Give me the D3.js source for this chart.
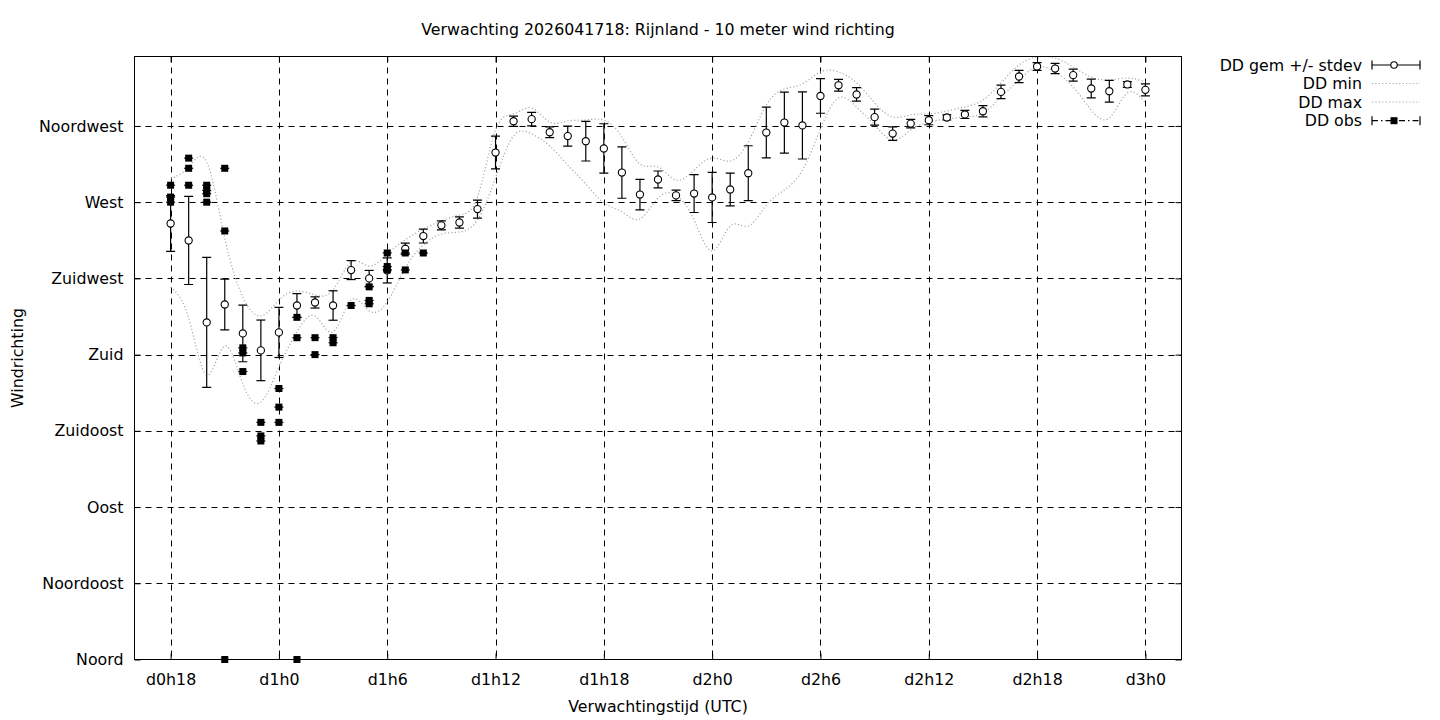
<!DOCTYPE html>
<html><head><meta charset="utf-8">
<script src="https://cdn.jsdelivr.net/npm/d3@7"></script>
<style>body{margin:0;background:#fff}svg{display:block}text{font-family:"DejaVu Sans",sans-serif;fill:#000}</style>
</head><body><svg id="c" width="1440" height="720"></svg>
<script>
const hours = [18,19,20,21,22,23,24,25,26,27,28,29,30,31,32,33,34,35,36,37,38,39,40,41,42,43,44,45,46,47,48,49,50,51,52,53,54,55,56,57,58,59,60,61,62,63,64,65,66,67,68,69,70,71,72];
const ddMean = [257.4,247.4,199,209.6,192.5,182.5,193.1,209,210.8,209,229.9,225,229.7,242.5,250,256.3,258,265.9,299.3,317.8,319,311.3,309,306,301.7,287.5,274.5,283.4,274,275.1,272.8,277.5,287.1,311.1,317,315.3,332.7,339,333.6,320.2,310.5,316.4,318.4,320,321.8,323.7,335.1,344.2,350.1,348.9,345,337.1,335.5,339.5,336.3];
const ddStdev = [16.5,26,38.4,15,16.7,17.9,14.8,7,3.3,8.7,5.6,4.7,7.4,3.3,4.1,2.7,3.3,5.3,9.7,3,4,3.2,5.9,11.7,14.6,15.2,9,5,3.1,11.2,14.8,9.7,16.2,15,18,19.8,10.2,3.5,4,4.7,4,2.5,2.7,1.5,2.4,3.3,4,3.6,2.3,3,3.5,5.5,6.4,1.7,3.5];
const ddMin = [219.9,201.6,168,185.1,162.7,152,172.7,193.4,202.8,193.4,212.2,205.8,211.1,231.1,244.7,251.2,252.4,259.5,284.3,309.1,310.3,303.2,291.9,280.7,269.5,264.2,260.1,272.5,274.2,259.5,241.2,255.9,255.9,268.3,277.2,289,313.2,331.5,326.2,315.6,306.7,312.6,317.3,319.1,320.3,322.6,332.1,342.1,349.8,346.9,338,324.4,319.7,334.5,328.6];
const ddMax = [283.7,290.8,293.7,248.8,214,202.8,212.2,217.6,215.2,218.2,234.7,232.3,239.4,247.7,254.2,258.9,262.4,273.1,312.6,322.1,325.6,317.3,317.9,318.5,318.5,308.5,292.5,290.8,283.1,289,296.1,294.3,305.5,327.4,336.8,339.8,346.9,346.9,340.4,328.6,320.3,321.5,322.1,323.8,326.2,330.3,340.4,351,355.7,355.1,349.8,343.9,342.1,343.3,341];
const obsHour = [18,18,18,19,19,19,20,20,20,20,21,21,21,22,22,22,23,23,23,24,24,24,25,25,25,26,26,27,27,28,29,29,29,30,30,30,31,31,32];
const obsDir  = [280,273,270,296,290,280,280,277,275,270,290,253,0,184,181,170,140,132,129,160,149,140,202,190,0,190,180,190,187,209,220,212,210,240,232,230,240,230,240];
const xTickHours = [18,24,30,36,42,48,54,60,66,72];
const xTickLabels = ["d0h18","d1h0","d1h6","d1h12","d1h18","d2h0","d2h6","d2h12","d2h18","d3h0"];
const yTickValues = [0,45,90,135,180,225,270,315];
const yTickLabels = ["Noord","Noordoost","Oost","Zuidoost","Zuid","Zuidwest","West","Noordwest"];
const legendLabels = ["DD gem +/- stdev","DD min","DD max","DD obs"];

const L=134.5,R=1181.5,T=56.5,B=659.5, FS=15.8;
const svg=d3.select("#c");
const x=d3.scaleLinear().domain([16,74]).range([L,R]);
const y=d3.scaleLinear().domain([0,356]).range([B,T]);

svg.append("defs").append("clipPath").attr("id","pc").append("rect").attr("x",L).attr("y",T).attr("width",R-L).attr("height",B-T);

// grid
const grid=svg.append("g").attr("stroke","#000").attr("stroke-width",1).attr("stroke-dasharray","6,5");
grid.selectAll("line.v").data(xTickHours).join("line").attr("x1",d=>Math.round(x(d))+0.5).attr("x2",d=>Math.round(x(d))+0.5).attr("y1",T).attr("y2",B);
grid.selectAll("line.h").data(yTickValues.filter(v=>v>0)).join("line").attr("y1",d=>Math.round(y(d))+0.5).attr("y2",d=>Math.round(y(d))+0.5).attr("x1",L).attr("x2",R);

// axes
const ax=d3.axisBottom(x).tickValues(xTickHours).tickFormat((d,i)=>xTickLabels[i]).tickSize(-6).tickPadding(14);
const gx=svg.append("g").attr("transform",`translate(0,${B})`).call(ax);
const ay=d3.axisLeft(y).tickValues(yTickValues).tickFormat((d,i)=>yTickLabels[i]).tickSize(-6).tickPadding(11);
const gy=svg.append("g").attr("transform",`translate(${L},0)`).call(ay);
const ayr=d3.axisRight(y).tickValues(yTickValues).tickFormat("").tickSize(-6);
const gyr=svg.append("g").attr("transform",`translate(${R},0)`).call(ayr);
const axt=d3.axisTop(x).tickValues(xTickHours).tickFormat("").tickSize(-6);
const gxt=svg.append("g").attr("transform",`translate(0,${T})`).call(axt);
[gx,gy,gyr,gxt].forEach(g=>{g.select(".domain").remove();g.selectAll("line").attr("stroke","#000");g.selectAll("text").attr("font-size",FS).attr("font-family","DejaVu Sans").attr("fill","#000");});

// min / max
const plot=svg.append("g").attr("clip-path","url(#pc)");
const lineOf=arr=>d3.line().x((d,i)=>x(hours[i])).y(d=>y(d)).curve(d3.curveNatural)(arr);
[ddMin,ddMax].forEach(arr=>{
  plot.append("path").attr("d",lineOf(arr)).attr("fill","none").attr("stroke","#a8a8a8").attr("stroke-width",1.2).attr("stroke-dasharray","1.2,2.2");
});

// error bars
const eb=plot.append("g").attr("stroke","#000").attr("stroke-width",1.2);
hours.forEach((h,i)=>{
  const cx=x(h), y1=y(ddMean[i]-ddStdev[i]), y2=y(ddMean[i]+ddStdev[i]);
  eb.append("line").attr("x1",cx).attr("x2",cx).attr("y1",y1).attr("y2",y2);
  eb.append("line").attr("x1",cx-4.5).attr("x2",cx+4.5).attr("y1",y1).attr("y2",y1);
  eb.append("line").attr("x1",cx-4.5).attr("x2",cx+4.5).attr("y1",y2).attr("y2",y2);
});
plot.append("g").selectAll("circle").data(hours).join("circle")
  .attr("cx",d=>x(d)).attr("cy",(d,i)=>y(ddMean[i])).attr("r",3.6)
  .attr("fill","#fff").attr("stroke","#000").attr("stroke-width",1.1);

// obs
const og=svg.append("g");
obsHour.forEach((h,i)=>{
  const cx=x(h), cy=y(obsDir[i]);
  og.append("line").attr("x1",cx-4.5).attr("x2",cx+4.5).attr("y1",cy).attr("y2",cy).attr("stroke","#000").attr("stroke-width",1.2);
  og.append("rect").attr("x",cx-3.5).attr("y",cy-3.5).attr("width",7).attr("height",7).attr("fill","#000");
});

// border
svg.append("rect").attr("x",L).attr("y",T).attr("width",R-L).attr("height",B-T).attr("fill","none").attr("stroke","#000").attr("stroke-width",1);

// titles
svg.append("text").attr("x",(L+R)/2).attr("y",34.5).attr("text-anchor","middle").attr("font-size",FS).text("Verwachting 2026041718: Rijnland - 10 meter wind richting");
svg.append("text").attr("x",(L+R)/2).attr("y",712).attr("text-anchor","middle").attr("font-size",FS).text("Verwachtingstijd (UTC)");
svg.append("text").attr("transform",`translate(23,${(T+B)/2}) rotate(-90)`).attr("text-anchor","middle").attr("font-size",FS).text("Windrichting");

// legend
const ly=[65,83.5,102,120.7];
const lg=svg.append("g");
legendLabels.forEach((t,i)=>{
  lg.append("text").attr("x",1362).attr("y",ly[i]+5.5).attr("text-anchor","end").attr("font-size",FS).text(t);
});
const s1=lg.append("g").attr("stroke","#000").attr("stroke-width",1.2);
s1.append("line").attr("x1",1372).attr("x2",1420).attr("y1",ly[0]).attr("y2",ly[0]);
s1.append("line").attr("x1",1372).attr("x2",1372).attr("y1",ly[0]-4.5).attr("y2",ly[0]+4.5);
s1.append("line").attr("x1",1420).attr("x2",1420).attr("y1",ly[0]-4.5).attr("y2",ly[0]+4.5);
lg.append("circle").attr("cx",1394).attr("cy",ly[0]).attr("r",3.2).attr("fill","#fff").attr("stroke","#000").attr("stroke-width",1.1);
[1,2].forEach(i=>lg.append("line").attr("x1",1372).attr("x2",1420).attr("y1",ly[i]).attr("y2",ly[i]).attr("stroke","#a8a8a8").attr("stroke-width",1.2).attr("stroke-dasharray","1.2,2.2"));
const s4=lg.append("g").attr("stroke","#000").attr("stroke-width",1.2);
s4.append("line").attr("x1",1372).attr("x2",1420).attr("y1",ly[3]).attr("y2",ly[3]).attr("stroke-dasharray","6,3,1.5,3");
s4.append("line").attr("x1",1372).attr("x2",1372).attr("y1",ly[3]-4.5).attr("y2",ly[3]+4.5);
s4.append("line").attr("x1",1420).attr("x2",1420).attr("y1",ly[3]-4.5).attr("y2",ly[3]+4.5);
lg.append("rect").attr("x",1394-3.5).attr("y",ly[3]-3.5).attr("width",7).attr("height",7).attr("fill","#000");
</script></body></html>
